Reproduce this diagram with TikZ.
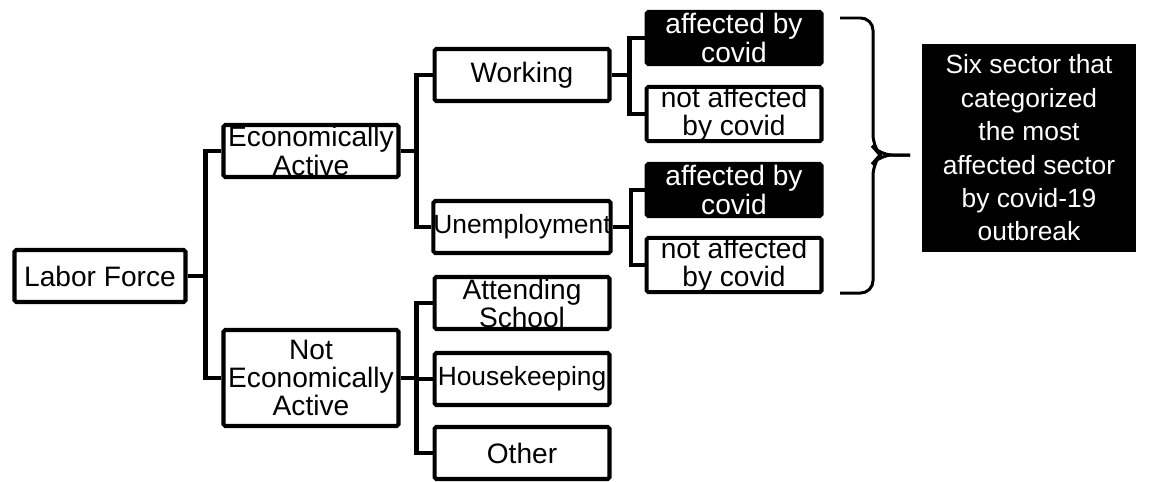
\documentclass[tikz,border=0pt]{standalone}
\usepackage{fontspec}
\setmainfont{Liberation Sans}
\begin{document}
\begin{tikzpicture}[x=0.02cm,y=-0.02cm]
	\tikzset{box/.style = {shape=rectangle,draw,line width=2.3pt,rounded corners=1pt,inner sep=0pt,minimum width=3.5cm,minimum height=1.04cm,align=center,font=\fontsize{16}{16}\selectfont}}
	\tikzset{dark/.style = {box,fill=black,text=white}}
	\tikzset{link/.style = {draw,line width=2.3pt}}
	\useasboundingbox (0,0) rectangle (1150,481);
	\node[box,minimum width=3.42cm] (lf) at (100,276) {Labor Force};
	\node[box] (ea) at (311,151) {Economically\\Active};
	\node[box,minimum height=1.92cm] (nea) at (311,378) {Not\\Economically\\Active};
	\node[box] (work) at (522,75) {Working};
	\node[box,font=\fontsize{15}{16}\selectfont] (unemp) at (522,227) {Unemployment};
	\node[box] (school) at (522,303) {Attending\\School};
	\node[box,font=\fontsize{15}{16}\selectfont] (house) at (522,379) {Housekeeping};
	\node[box] (other) at (522,453) {Other};
	\node[dark] (aff1) at (734,38) {affected by\\covid};
	\node[box] (naff1) at (734,114) {not affected\\by covid};
	\node[dark] (aff2) at (734,190) {affected by\\covid};
	\node[box] (naff2) at (734,265) {not affected\\by covid};
	\node[box,draw=none,fill=black,text=white,rounded corners=0pt,minimum width=4.3cm,minimum height=4.18cm,font=\fontsize{15}{19}\selectfont] (six) at (1029,148) {Six sector that\\categorized\\the most\\affected sector\\by covid-19\\outbreak};
	\path[link] (lf.east) -- ++(18,0) |- (ea.west);
	\path[link] (lf.east) -- ++(18,0) |- (nea.west);
	\path[link] (ea.east) -- ++(16,0) |- (work.west);
	\path[link] (ea.east) -- ++(16,0) |- (unemp.west);
	\path[link] (nea.east) -- ++(16,0) |- (school.west);
	\path[link] (nea.east) -- ++(16,0) |- (house.west);
	\path[link] (nea.east) -- ++(16,0) |- (other.west);
	\path[link] (work.east) -- ++(18,0) |- (aff1.west);
	\path[link] (work.east) -- ++(18,0) |- (naff1.west);
	\path[link] (unemp.east) -- ++(18,0) |- (aff2.west);
	\path[link] (unemp.east) -- ++(18,0) |- (naff2.west);
	% brace
	\coordinate (bt) at (840,18);
	\coordinate (bb) at (840,293);
	\coordinate (tip) at (910,155);
	\draw[line width=1.7pt,rounded corners=7pt] (bt) -- (873,18) -- (873,147) -- (880,155) -- (tip);
	\draw[line width=1.7pt,rounded corners=7pt] (bb) -- (873,293) -- (873,163) -- (880,155) -- (tip);
\end{tikzpicture}
\end{document}
